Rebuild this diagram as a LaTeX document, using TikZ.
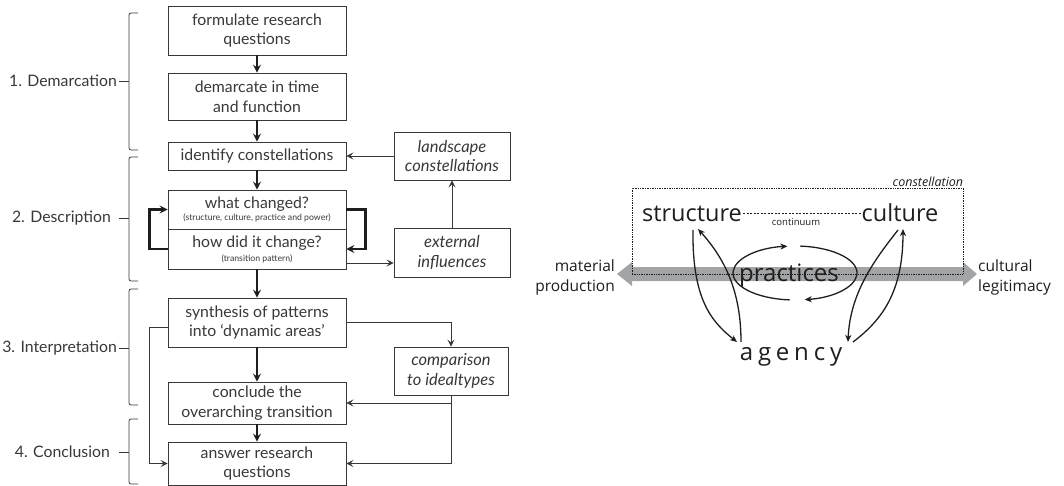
\documentclass[tikz,border=0pt]{standalone}
\usepackage{fontspec}
\setmainfont{Lato}
\newfontfamily\osans{Open Sans}
\usetikzlibrary{arrows.meta}
\definecolor{ink}{HTML}{383838}
\definecolor{dark}{HTML}{1E1E1E}
\definecolor{band}{HTML}{A3A4A6}
\newcommand\fsz[2]{\fontsize{#1pt}{#2pt}\selectfont}

\begin{document}
\begin{tikzpicture}[x=1pt,y=-1pt,
  box/.style={draw=ink,line width=0.9pt,minimum width=178pt,inner sep=0pt,
    align=center,font=\fsz{15.8}{19.5},text=ink},
  sidebox/.style={box,minimum width=116pt,font=\fsz{16.5}{19.5}\itshape},
  flow/.style={draw=dark,line width=1.8pt,-{Stealth[length=8pt,width=8pt,inset=3pt]}},
  loop/.style={draw=dark,line width=2.2pt,-{Stealth[length=8pt,width=8pt,inset=3pt]}},
  thin/.style={draw=ink,line width=0.9pt,-{Stealth[length=7pt,width=7pt,inset=3pt]}},
  brace/.style={draw=ink,line width=0.8pt,rounded corners=2pt},
  phase/.style={anchor=east,font=\fsz{15.8}{17},text=ink,inner sep=0pt},
  cycle/.style={draw=dark,line width=1.3pt,-{Stealth[length=7pt,width=6pt,inset=2pt]}},
  term/.style={font=\osans\fsz{23.5}{28},text=dark,inner sep=0pt,anchor=base},
  pole/.style={font=\osans\fsz{15.5}{20},text=dark,inner sep=0pt}
]
\useasboundingbox (0,0) rectangle (1064,486);

% ---------- research steps ----------
\node[box,minimum height=49pt] (b1) at (257,30.5) {formulate research\\questions};
\node[box,minimum height=47pt] (b2) at (257,96.5) {demarcate in time\\and function};
\node[box,minimum height=28pt] (b3) at (257,156) {identify constellations};
\node[box,minimum height=39pt,font=\fsz{15.8}{12}] (b4) at (257,209.5)
  {what changed?\\{\fsz{8.7}{12}(structure, culture, practice and power)}};
\node[box,minimum height=40pt,font=\fsz{15.8}{14}] (b5) at (257,249)
  {how did it change?\\{\fsz{8.7}{14}(transition pattern)}};
\node[box,minimum height=49pt] (b6) at (257,322.5) {synthesis of patterns\\into `dynamic areas'};
\node[box,minimum height=42pt] (b7) at (257,403) {conclude the\\overarching transition};
\node[box,minimum height=43pt] (b8) at (257,463.5) {answer research\\questions};

\node[sidebox,minimum height=48pt] (land) at (452,156) {landscape\\constellations};
\node[sidebox,minimum height=49pt] (ext) at (452,252.5) {external\\influences};
\node[sidebox,minimum width=114pt,minimum height=48pt] (cmp) at (451,371) {comparison\\to idealtypes};

% main sequence
\draw[flow] (b1) -- (b2);
\draw[flow] (b2) -- (b3);
\draw[flow] (b3) -- (b4);
\draw[flow] (b5) -- (b6);
\draw[flow] (b6) -- (b7);
\draw[flow] (b7) -- (b8);

% feedback between the two description questions
\draw[loop] (b5.west) -- ++(-18,0) |- (b4.west);
\draw[loop] (b4.east) -- ++(19,0) |- (b5.east);

% side inputs
\coordinate (bx) at ([yshift=-14pt]b5.east);
\draw[thin] (bx) -- (bx -| ext.west);
\draw[thin] (ext) -- (land);
\draw[thin] (land) -- (b3);
\draw[thin] (b6.east) -| (cmp.north);
\draw[thin] (cmp.south) |- (b7.east);
\draw[thin] (cmp.south) |- (b8.east);
\draw[thin] ([yshift=-5pt]b6.west) -- ++(-18,0) |- (b8.west);

% ---------- phases ----------
\node[phase] (p1) at (117,81) {1. Demarcation};
\node[phase] (p2) at (111,218) {2. Description};
\node[phase] (p3) at (117,348) {3. Interpretation};
\node[phase] (p4) at (110,452) {4. Conclusion};

\draw[brace] (138,13) -- (129,13) -- (129,150) -- (138,150);
\draw[brace] (138,157) -- (129,157) -- (129,281) -- (138,281);
\draw[brace] (138,289) -- (129,289) -- (129,405) -- (138,405);
\draw[brace] (138,419) -- (129,419) -- (129,484) -- (138,484);
\draw[draw=ink,line width=0.8pt] (119,81) -- (129,81);
\draw[draw=ink,line width=0.8pt] (119,218) -- (129,218);
\draw[draw=ink,line width=0.8pt] (119,348) -- (129,348);
\draw[draw=ink,line width=0.8pt] (119,452) -- (129,452);

% ---------- constellation ----------
% axis between material production and cultural legitimacy
\fill[band] (617,274) -- (632,262) -- (632,267) -- (963,267) -- (963,262)
  -- (977,274) -- (963,286) -- (963,281) -- (632,281) -- (632,286) -- cycle;

\node[draw=dark,densely dotted,line width=0.7pt,minimum width=331pt,minimum height=86pt,inner sep=0pt]
  (frame) at (797.5,231) {};
\node[anchor=south east,inner sep=0pt,font=\osans\itshape\fsz{12.5}{14},text=dark]
  (clabel) at ([yshift=1pt]frame.north east) {constellation};

\node[pole,anchor=east,align=right] (mat) at (615,277) {material\\production};
\node[pole,anchor=west,align=left] (leg) at (978,277) {cultural\\legitimacy};

\node[term] (st) at (692,222) {structure};
\node[term] (cu) at (900,222) {culture};
\node[term,font=\osans\fsz{24}{28}] (pr) at (789,281) {practices};
\node[term,font=\osans\fsz{24}{28}\addfontfeatures{LetterSpace=20}] (ag) at (791,360) {agency};

\draw[dark,dashed,dash pattern=on 2pt off 1.5pt,line width=0.6pt]
  ([yshift=9pt,xshift=1pt]st.base east) -- ([yshift=9pt,xshift=-1pt]cu.base west);
\node[inner sep=0pt,font=\osans\fsz{9.5}{11},text=dark] (cont) at (796,222) {continuum};

% reproduction cycle around practices
\draw[cycle] (789.6,299.9) arc[start angle=95,end angle=263,x radius=62,y radius=27];
\draw[cycle] (800.4,246.1) arc[start angle=-85,end angle=81,x radius=62,y radius=27];

% agency -- structure / culture
\draw[cycle] ([xshift=1pt,yshift=-8pt]st.base) .. controls (692,300) and (712,322) ..
  ([xshift=-54pt,yshift=18pt]ag.base);
\draw[cycle] ([xshift=-50pt,yshift=18pt]ag.base) .. controls (741,290) and (724,258) ..
  ([xshift=6pt,yshift=-7pt]st.base);
\draw[cycle] ([xshift=-2pt,yshift=-8pt]cu.base) .. controls (876,258) and (850,292) ..
  ([xshift=57pt,yshift=18pt]ag.base);
\draw[cycle] ([xshift=62pt,yshift=18pt]ag.base) .. controls (882,320) and (903,292) ..
  ([xshift=3pt,yshift=-7pt]cu.base);
\end{tikzpicture}
\end{document}
